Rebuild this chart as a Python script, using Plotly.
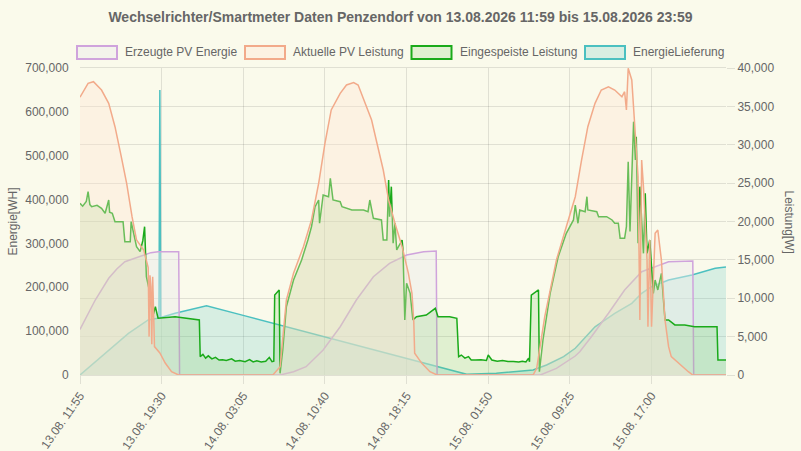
import pandas as pd
import plotly.graph_objects as go

# ==========================================
# DATA
# ==========================================
YEAR = "2026"

# Erzeugte PV Energie [WH] (left axis)
pv_energy_t = ["13.08. 11:55", "13.08. 12:30", "13.08. 13:20", "13.08. 14:35", "13.08. 15:20",
               "13.08. 16:05", "13.08. 17:55", "13.08. 18:30", "13.08. 19:10", "13.08. 21:05",
               "13.08. 21:10", "14.08. 06:30", "14.08. 07:45", "14.08. 08:55", "14.08. 10:30",
               "14.08. 12:05", "14.08. 13:35", "14.08. 15:10", "14.08. 16:40", "14.08. 18:15",
               "14.08. 19:50", "14.08. 21:00", "14.08. 21:05", "15.08. 06:40", "15.08. 08:10",
               "15.08. 09:55", "15.08. 10:20", "15.08. 11:25", "15.08. 13:00", "15.08. 14:30",
               "15.08. 16:05", "15.08. 17:20", "15.08. 18:35", "15.08. 20:50", "15.08. 20:55",
               "15.08. 23:55"]
pv_energy_v = [104000, 133000, 171000, 220500, 241700,
               258300, 273600, 279000, 281100, 281100,
               0, 0, 7600, 19000, 57000,
               110000, 171000, 224100, 254700, 273600,
               281100, 282700, 0, 0, 15200,
               43300, 53100, 87300, 140700, 193800,
               235500, 246900, 258300, 260000, 0,
               0]

# Aktuelle PV Leistung [W] (right axis)
pv_power_t = ["13.08. 11:55", "13.08. 12:40", "13.08. 13:10", "13.08. 13:55", "13.08. 14:35",
              "13.08. 15:10", "13.08. 15:45", "13.08. 16:15", "13.08. 16:45", "13.08. 17:10",
              "13.08. 17:50", "13.08. 18:05", "13.08. 18:15", "13.08. 18:20", "13.08. 18:25",
              "13.08. 18:30", "13.08. 18:35", "13.08. 18:40", "13.08. 18:45", "13.08. 18:50",
              "13.08. 19:20", "13.08. 19:50", "13.08. 20:25", "13.08. 21:05",
              "14.08. 05:50", "14.08. 06:30", "14.08. 07:05", "14.08. 07:45", "14.08. 08:40",
              "14.08. 09:25", "14.08. 10:05", "14.08. 10:40", "14.08. 11:15", "14.08. 12:05",
              "14.08. 12:40", "14.08. 13:20", "14.08. 13:45", "14.08. 14:25", "14.08. 15:00",
              "14.08. 15:30", "14.08. 16:05", "14.08. 16:35", "14.08. 17:10", "14.08. 17:50",
              "14.08. 18:25", "14.08. 18:45", "14.08. 18:55", "14.08. 19:00", "14.08. 19:40",
              "14.08. 20:25", "14.08. 21:05",
              "15.08. 06:00", "15.08. 06:20", "15.08. 07:05", "15.08. 08:10", "15.08. 09:05",
              "15.08. 09:55", "15.08. 10:30", "15.08. 11:05", "15.08. 11:45", "15.08. 12:20",
              "15.08. 13:00", "15.08. 13:35", "15.08. 14:15", "15.08. 14:30", "15.08. 14:40",
              "15.08. 14:50", "15.08. 15:10", "15.08. 15:20", "15.08. 15:30", "15.08. 15:45",
              "15.08. 15:55", "15.08. 16:05", "15.08. 16:15", "15.08. 16:35", "15.08. 16:40",
              "15.08. 16:50", "15.08. 17:00", "15.08. 17:20", "15.08. 17:35", "15.08. 17:55",
              "15.08. 18:15", "15.08. 18:35", "15.08. 18:50", "15.08. 19:30", "15.08. 20:25",
              "15.08. 20:50", "15.08. 23:55"]
pv_power_v = [36200, 38000, 38220, 37130, 35400,
              32350, 28450, 24980, 20630, 17590,
              16290, 14985, 14000, 5000, 13000,
              11500, 4000, 12800, 5500, 3700,
              2870, 1560, 430, 0,
              0, 1080, 9770, 13250, 16720,
              20200, 24980, 30190, 34530, 36700,
              37790, 38090, 37790, 35400, 33230,
              30190, 26710, 22800, 19770, 16720,
              13250, 10640, 7000, 2830, 1520,
              430, 0,
              0, 870, 7600, 14985, 19320,
              23230, 28010, 32350, 35400, 37130,
              37560, 37130, 36260, 36910, 34530,
              39960, 38440, 34530, 30190, 25840,
              7170, 28010, 24540, 14985, 6290,
              17590, 6290, 18460, 18890, 14985,
              7170, 3690, 2390, 1520, 430,
              0, 0]

# Eingespeiste Leistung [W] (right axis)
feed_t = ["13.08. 11:55", "13.08. 12:10", "13.08. 12:30", "13.08. 12:40", "13.08. 12:50",
          "13.08. 13:00", "13.08. 13:30", "13.08. 13:55", "13.08. 14:15", "13.08. 14:35",
          "13.08. 14:40", "13.08. 14:55", "13.08. 15:10", "13.08. 15:55", "13.08. 16:05",
          "13.08. 16:35", "13.08. 16:40", "13.08. 17:10", "13.08. 17:30", "13.08. 17:45",
          "13.08. 17:55", "13.08. 18:00", "13.08. 18:05", "13.08. 18:25", "13.08. 18:40",
          "13.08. 18:55", "13.08. 19:10", "13.08. 20:45", "13.08. 22:00", "13.08. 23:00",
          "13.08. 23:05", "13.08. 23:20", "13.08. 23:35", "13.08. 23:50", "14.08. 00:10",
          "14.08. 00:30", "14.08. 00:50", "14.08. 01:10", "14.08. 01:30", "14.08. 02:00",
          "14.08. 02:20", "14.08. 02:45", "14.08. 03:15", "14.08. 03:40", "14.08. 04:00",
          "14.08. 04:20", "14.08. 04:45", "14.08. 05:10", "14.08. 05:30", "14.08. 05:45",
          "14.08. 05:55", "14.08. 06:00", "14.08. 06:25", "14.08. 06:30", "14.08. 06:45",
          "14.08. 07:05", "14.08. 07:45", "14.08. 08:30", "14.08. 09:05", "14.08. 09:25",
          "14.08. 09:45", "14.08. 10:05", "14.08. 10:10", "14.08. 10:20", "14.08. 10:30",
          "14.08. 11:00", "14.08. 11:10", "14.08. 11:25", "14.08. 12:05", "14.08. 12:15",
          "14.08. 13:10", "14.08. 14:15", "14.08. 14:40", "14.08. 14:50", "14.08. 15:10",
          "14.08. 15:55", "14.08. 16:05", "14.08. 16:25", "14.08. 16:35", "14.08. 16:40",
          "14.08. 16:50", "14.08. 17:00", "14.08. 17:10", "14.08. 17:20", "14.08. 17:50",
          "14.08. 17:55", "14.08. 18:05", "14.08. 18:15", "14.08. 18:35", "14.08. 18:50",
          "14.08. 19:10", "14.08. 20:05", "14.08. 20:55", "14.08. 21:10", "14.08. 22:15",
          "14.08. 22:55", "14.08. 23:05", "14.08. 23:20", "14.08. 23:40", "15.08. 00:00",
          "15.08. 00:15", "15.08. 00:40", "15.08. 01:10", "15.08. 01:40", "15.08. 01:50",
          "15.08. 02:10", "15.08. 02:40", "15.08. 03:10", "15.08. 03:40", "15.08. 04:10",
          "15.08. 04:40", "15.08. 05:00", "15.08. 05:20", "15.08. 05:35", "15.08. 05:40",
          "15.08. 05:50", "15.08. 06:30", "15.08. 06:35", "15.08. 06:55", "15.08. 07:35",
          "15.08. 08:20", "15.08. 09:05", "15.08. 09:45", "15.08. 09:55", "15.08. 10:10",
          "15.08. 10:20", "15.08. 10:50", "15.08. 11:00", "15.08. 11:05", "15.08. 11:55",
          "15.08. 12:05", "15.08. 12:50", "15.08. 13:20", "15.08. 13:35", "15.08. 13:55",
          "15.08. 14:05", "15.08. 14:30", "15.08. 14:40", "15.08. 14:50", "15.08. 15:00",
          "15.08. 15:20", "15.08. 15:30", "15.08. 15:35", "15.08. 15:45", "15.08. 15:55",
          "15.08. 16:15", "15.08. 16:25", "15.08. 16:35", "15.08. 16:50", "15.08. 17:10",
          "15.08. 17:20", "15.08. 17:35", "15.08. 17:55", "15.08. 18:15", "15.08. 18:35",
          "15.08. 19:10", "15.08. 20:05", "15.08. 21:00", "15.08. 23:05", "15.08. 23:10",
          "15.08. 23:55"]
feed_v = [22370, 22000, 22600, 23880, 22200,
          21930, 22100, 21720, 21070, 22800,
          21200, 21070, 19980, 19980, 17370,
          17370, 19980, 16720, 16070, 17500,
          19320, 15850, 12810, 10640, 7600,
          8900, 7390, 7600, 7390, 7170,
          2390, 2700, 2200, 2500, 2100,
          2300, 1950, 2000, 1900, 2100,
          1800, 1900, 1730, 2000, 1700,
          1850, 1700, 1800, 2300, 1750,
          1800, 10420, 11080, 220, 3260,
          8900, 12380, 14985, 17590, 19320,
          21930, 22800, 19770, 21930, 23450,
          23230, 25630, 22800, 22580, 21930,
          21500, 21500, 21280, 22800, 20420,
          20200, 17590, 17590, 25410, 20630,
          24540, 17160, 19770, 16290, 17590,
          16290, 7170, 11950, 10640, 7170,
          7600, 7820, 8690, 7600, 7600,
          7390, 2390, 2600, 2200, 2400,
          1950, 1950, 2000, 1900, 2600,
          1950, 1800, 1900, 1750, 1750,
          1700, 1800, 1700, 2200, 1730,
          10420, 11080, 430, 4560, 10640,
          15420, 18460, 20200, 22150, 19770,
          21500, 21280, 23230, 21500, 21280,
          20630, 20630, 20200, 19770, 19770,
          17810, 17810, 19320, 27790, 18700,
          33010, 28010, 31050, 17160, 24540,
          15850, 23670, 15850, 17590, 10640,
          12380, 11080, 13250, 7170, 7170,
          6520, 6520, 6290, 6290, 1950,
          1950]

# EnergieLieferung [WH] (left axis)
supply_t = ["13.08. 11:55", "13.08. 14:35", "13.08. 16:25", "13.08. 18:15", "13.08. 19:10",
            "13.08. 19:15", "13.08. 19:20", "13.08. 19:25", "13.08. 20:45", "13.08. 23:40",
            "14.08. 03:15", "14.08. 05:50", "14.08. 20:25", "14.08. 21:20", "14.08. 23:50",
            "15.08. 02:35", "15.08. 06:00", "15.08. 07:15", "15.08. 08:50", "15.08. 09:55",
            "15.08. 10:20", "15.08. 11:45", "15.08. 13:35", "15.08. 15:10", "15.08. 16:05",
            "15.08. 17:00", "15.08. 18:35", "15.08. 20:45", "15.08. 22:55", "15.08. 23:40",
            "15.08. 23:55"]
supply_v = [0, 57000, 95000, 125400, 129300,
            130000, 650000, 131000, 140700, 158000,
            134800, 118000, 23600, 18900, 1500,
            3800, 11400, 22800, 41700, 60900,
            72300, 110000, 140700, 163500, 186300,
            201300, 216600, 228000, 243300, 245600,
            246000]

tick_labels = ["13.08. 11:55", "13.08. 19:30", "14.08. 03:05", "14.08. 10:40",
               "14.08. 18:15", "15.08. 01:50", "15.08. 09:25", "15.08. 17:00"]
x_start, x_end = "13.08. 11:55", "15.08. 23:55"


def to_dt(labels):
    return pd.to_datetime([YEAR + " " + s for s in labels], format="%Y %d.%m. %H:%M")


GRID = "rgba(0,0,0,0.1)"
TXT = "#666666"
BG = "#fafaeb"

# plot area in pixels (used to place the hand-made legend boxes)
W, H = 801, 451
L, R, T, B = 80, 75, 68, 76
PW, PH = W - L - R, H - T - B


def px(x):
    return (x - L) / PW


def py(y):
    return (H - B - y) / PH


# name, line colour, fill colour, axis, x, y  (drawn in reverse so the first one is on top)
series = [
    ("Erzeugte PV Energie", '#cfa3dc', 'rgba(235,235,235,0.45)', 'y', pv_energy_t, pv_energy_v),
    ("Aktuelle PV Leistung", '#f2aa8a', 'rgba(255,225,210,0.35)', 'y2', pv_power_t, pv_power_v),
    ("Eingespeiste Leistung", '#1aaa1a', 'rgba(120,200,100,0.2)', 'y2', feed_t, feed_v),
    ("EnergieLieferung", '#4bc0c0', 'rgba(75,192,192,0.2)', 'y', supply_t, supply_v),
]
legend_box_x = [77, 245, 411.5, 585]

fig = go.Figure()
for name, lc, fc, ax, xs, ys in reversed(series):
    fig.add_trace(go.Scatter(x=to_dt(xs), y=ys, mode='lines', name=name, showlegend=False,
                             fill='tozeroy', fillcolor=fc, line=dict(color=lc, width=1.5), yaxis=ax))

# chart.js style legend: 40x13 boxes with label
shapes, annos = [], []
for (name, lc, fc, ax, xs, ys), bx in zip(series, legend_box_x):
    shapes.append(dict(type='rect', xref='paper', yref='paper', layer='above',
                       x0=px(bx), x1=px(bx + 40), y0=py(59), y1=py(46),
                       line=dict(color=lc, width=2), fillcolor=fc))
    annos.append(dict(text=name, xref='paper', yref='paper', x=px(bx + 46), y=py(52.5),
                      xanchor='left', yanchor='middle', showarrow=False,
                      font=dict(size=12, color=TXT)))

annos.append(dict(text="Energie[WH]", xref='paper', yref='paper', x=px(12), y=0.5,
                  xanchor='center', yanchor='middle',
                  textangle=-90, showarrow=False, font=dict(size=12, color=TXT)))
annos.append(dict(text="Leistung[W]", xref='paper', yref='paper', x=px(789), y=0.5,
                  xanchor='center', yanchor='middle',
                  textangle=90, showarrow=False, font=dict(size=12, color=TXT)))

fig.update_layout(
    width=W, height=H,
    paper_bgcolor=BG, plot_bgcolor=BG,
    margin=dict(l=L, r=R, t=T, b=B),
    font=dict(family="Liberation Sans, Arial, sans-serif", size=12, color=TXT),
    title=dict(text="<b>Wechselrichter/Smartmeter Daten Penzendorf von 13.08.2026 11:59 bis 15.08.2026 23:59</b>",
               x=0.5, xanchor='center', y=0.962, yanchor='middle', yref='container',
               font=dict(size=14, color=TXT)),
    showlegend=False,
    xaxis=dict(type='date', range=[to_dt([x_start])[0], to_dt([x_end])[0]],
               tickvals=to_dt(tick_labels), ticktext=tick_labels, tickangle=-55,
               showgrid=True, gridcolor=GRID, ticks='outside', ticklen=8, tickcolor=GRID,
               showline=True, linecolor=GRID, mirror=True, zeroline=False, automargin=False),
    yaxis=dict(range=[0, 700000], dtick=100000, tickformat=',d', showgrid=False,
               zeroline=False, ticks='outside', ticklen=8, tickcolor='rgba(0,0,0,0)',
               automargin=False),
    yaxis2=dict(range=[0, 40000], dtick=5000, tickformat=',d', overlaying='y', side='right',
                showgrid=True, gridcolor=GRID, zeroline=False,
                ticks='outside', ticklen=8, tickcolor=GRID, automargin=False),
    shapes=shapes,
    annotations=annos,
)

# drop the browser's default body margin so the figure sits at the page origin
fig.write_html("out.html", config={"displayModeBar": False},
               post_script="document.body.style.margin='0';")
